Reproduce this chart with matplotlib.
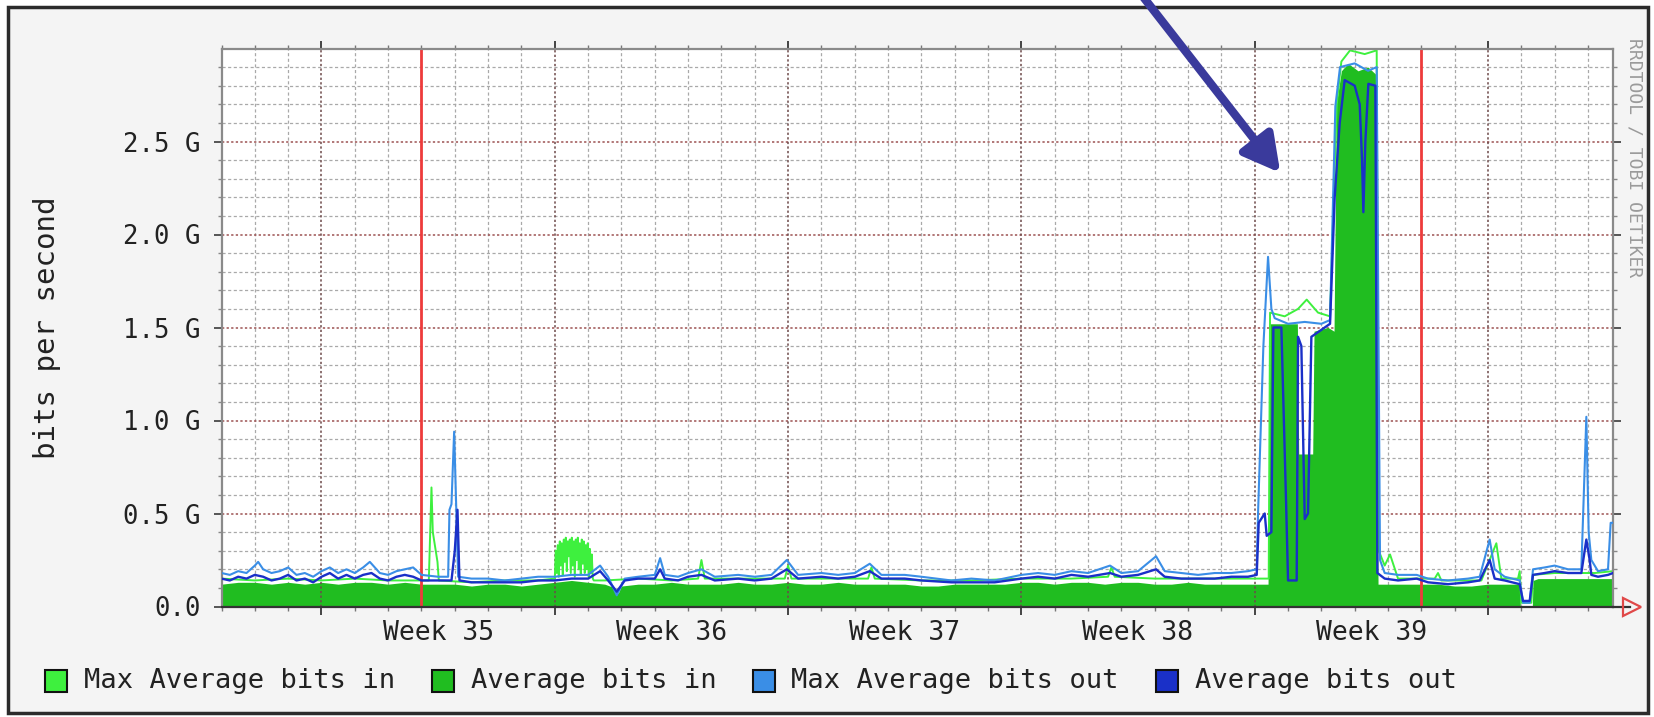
import matplotlib
matplotlib.use('Agg')
import matplotlib.pyplot as plt
import numpy as np
from matplotlib.patches import Rectangle, FancyArrowPatch

G = 1e9

# ---------------- data (x in days from start of graph, values in Gbit/s) ----------------
week_labels = ["Week 35", "Week 36", "Week 37", "Week 38", "Week 39"]
week_centers = [6.5, 13.5, 20.5, 27.5, 34.5]
week_boundaries = [3, 10, 17, 24, 31, 38]
month_start_days = [6, 36]
ytick_vals = [0.0, 0.5, 1.0, 1.5, 2.0, 2.5]
ytick_labels = ["0.0", "0.5 G", "1.0 G", "1.5 G", "2.0 G", "2.5 G"]
legend_labels = ["Max Average bits in", "Average bits in", "Max Average bits out", "Average bits out"]

avg_in_days = [0.0, 0.5, 1.0, 1.5, 2.0, 2.5, 3.0, 3.5, 4.0, 4.5, 5.0, 5.5, 6.0, 6.5, 7.0, 7.5, 8.0, 8.5,
               9.0, 9.5, 10.0, 10.5, 11.0, 11.5, 11.8, 11.9, 12.0, 12.5, 13.0, 13.5, 14.0, 14.5, 15.0,
               15.5, 16.0, 16.5, 17.0, 17.5, 18.0, 18.5, 19.0, 19.5, 20.0, 20.5, 21.0, 21.5, 22.0, 22.5,
               23.0, 23.5, 24.0, 24.5, 25.0, 25.5, 26.0, 26.5, 27.0, 27.5, 28.0, 28.5, 29.0, 29.5, 30.0,
               30.5, 31.0, 31.4, 31.46, 32.28, 32.32, 32.74, 32.78, 33.2, 33.38, 33.45, 33.6, 33.8,
               34.1, 34.4, 34.64, 34.7, 35.0, 35.5, 36.0, 36.5, 37.0, 37.5, 38.0, 38.5, 38.95, 38.97,
               39.33, 39.35, 39.5, 40.0, 40.5, 41.0, 41.5, 41.75]
avg_in_vals = [0.12, 0.13, 0.13, 0.12, 0.13, 0.12, 0.13, 0.12, 0.13, 0.13, 0.12, 0.13, 0.12, 0.12, 0.12,
               0.11, 0.12, 0.12, 0.11, 0.12, 0.13, 0.14, 0.13, 0.12, 0.10, 0.07, 0.11, 0.12, 0.12, 0.13,
               0.12, 0.12, 0.12, 0.13, 0.12, 0.12, 0.13, 0.12, 0.12, 0.13, 0.12, 0.12, 0.12, 0.12, 0.11,
               0.11, 0.12, 0.12, 0.12, 0.12, 0.13, 0.13, 0.12, 0.13, 0.13, 0.12, 0.13, 0.13, 0.12, 0.12,
               0.13, 0.12, 0.12, 0.12, 0.12, 0.12, 1.52, 1.52, 0.82, 0.82, 1.48, 1.50, 1.48, 2.70, 2.88,
               2.92, 2.88, 2.90, 2.86, 0.12, 0.12, 0.12, 0.12, 0.12, 0.11, 0.11, 0.12, 0.12, 0.12, 0.0,
               0.0, 0.14, 0.15, 0.15, 0.15, 0.15, 0.15, 0.15]

max_in_days = [0.0, 1.0, 2.0, 3.0, 4.0, 5.0, 6.0, 6.22, 6.30, 6.34, 6.48, 6.52, 7.5, 8.5, 9.5,
               10.00, 10.03, 10.06, 10.09, 10.12, 10.15, 10.18, 10.21, 10.24, 10.27, 10.30, 10.33,
               10.36, 10.39, 10.42, 10.45, 10.48, 10.51, 10.54, 10.57, 10.60, 10.63, 10.66, 10.69,
               10.72, 10.75, 10.78, 10.81, 10.84, 10.87, 10.90, 10.93, 10.96, 10.99, 11.02, 11.05,
               11.08, 11.11, 11.14, 11.17,
               11.5, 12.5, 13.5, 14.3, 14.4, 14.5, 15.5, 16.9, 17.0, 17.1, 18.5, 19.4, 19.5, 19.6,
               21.0, 22.5, 24.0, 25.5, 26.6, 26.7, 26.8, 28.0, 29.5, 31.0, 31.42, 31.46, 31.9, 32.3,
               32.56, 32.9, 33.26, 33.46, 33.60, 33.86, 34.3, 34.66, 34.72, 34.9, 35.06, 35.3, 36.4,
               36.5, 36.6, 37.8, 38.25, 38.4, 38.9, 38.95, 39.0, 39.3, 39.35, 40.0, 40.9, 41.2, 41.75]
max_in_vals = [0.15, 0.14, 0.15, 0.14, 0.15, 0.14, 0.14, 0.14, 0.64, 0.40, 0.24, 0.14, 0.13, 0.14, 0.14,
               0.15, 0.30, 0.18, 0.33, 0.16, 0.35, 0.22, 0.34, 0.17, 0.36, 0.24, 0.37,
               0.19, 0.35, 0.27, 0.36, 0.18, 0.37, 0.22, 0.35, 0.16, 0.36, 0.25, 0.37,
               0.20, 0.34, 0.17, 0.36, 0.23, 0.35, 0.18, 0.33, 0.20, 0.34, 0.16, 0.31,
               0.18, 0.28, 0.15, 0.14,
               0.14, 0.15, 0.14, 0.15, 0.25, 0.15, 0.15, 0.15, 0.22, 0.15, 0.15, 0.15, 0.21, 0.15,
               0.14, 0.14, 0.15, 0.15, 0.16, 0.21, 0.16, 0.15, 0.15, 0.15, 0.15, 1.58, 1.56, 1.60,
               1.65, 1.58, 1.56, 2.70, 2.93, 2.99, 2.97, 2.99, 0.30, 0.22, 0.28, 0.15, 0.15,
               0.18, 0.14, 0.14, 0.34, 0.15, 0.15, 0.19, 0.02, 0.02, 0.17, 0.18, 0.18, 0.18, 0.19]

max_out_days = [0.0, 0.25, 0.5, 0.75, 1.0, 1.1, 1.25, 1.5, 1.75, 2.0, 2.25, 2.5, 2.75, 3.0, 3.25, 3.5,
                3.75, 4.0, 4.25, 4.45, 4.75, 5.0, 5.25, 5.5, 5.75, 6.0, 6.5, 6.8, 6.84, 6.90, 6.98,
                7.04, 7.10, 7.5, 8.0, 8.5, 9.0, 9.5, 10.0, 10.5, 11.0, 11.36, 11.6, 11.86, 12.1, 12.5,
                13.0, 13.16, 13.3, 13.7, 14.0, 14.4, 14.8, 15.5, 16.0, 16.5, 16.96, 17.3, 18.0, 18.5,
                19.0, 19.45, 19.8, 20.5, 21.0, 21.9, 22.5, 23.2, 24.0, 24.5, 25.0, 25.5, 26.0, 26.66,
                27.0, 27.5, 28.04, 28.3, 28.8, 29.3, 29.8, 30.3, 30.8, 31.06, 31.1, 31.26, 31.4, 31.5,
                31.6, 32.0, 32.5, 33.0, 33.26, 33.42, 33.56, 34.0, 34.4, 34.66, 34.76, 34.9, 35.3,
                35.86, 36.2, 36.8, 37.4, 37.75, 38.05, 38.2, 38.5, 38.95, 39.05, 39.25, 39.35, 39.7,
                40.0, 40.4, 40.8, 40.95, 41.02, 41.1, 41.3, 41.6, 41.68, 41.75]
max_out_vals = [0.18, 0.17, 0.19, 0.18, 0.22, 0.24, 0.20, 0.18, 0.19, 0.21, 0.17, 0.18, 0.16, 0.19, 0.21,
                0.18, 0.20, 0.18, 0.21, 0.24, 0.18, 0.17, 0.19, 0.20, 0.21, 0.17, 0.16, 0.16, 0.52,
                0.55, 0.94, 0.55, 0.16, 0.15, 0.15, 0.14, 0.15, 0.16, 0.16, 0.17, 0.17, 0.22, 0.16,
                0.06, 0.15, 0.16, 0.17, 0.26, 0.17, 0.16, 0.18, 0.20, 0.16, 0.17, 0.16, 0.17, 0.25,
                0.17, 0.18, 0.17, 0.18, 0.23, 0.17, 0.17, 0.16, 0.14, 0.15, 0.14, 0.17, 0.18, 0.17,
                0.19, 0.18, 0.22, 0.18, 0.19, 0.27, 0.19, 0.18, 0.17, 0.18, 0.18, 0.19, 0.20, 0.50,
                1.40, 1.88, 1.60, 1.55, 1.52, 1.53, 1.52, 1.54, 2.69, 2.90, 2.92, 2.88, 2.90, 0.25,
                0.18, 0.17, 0.17, 0.15, 0.14, 0.15, 0.16, 0.36, 0.20, 0.16, 0.14, 0.02, 0.02, 0.20,
                0.21, 0.22, 0.20, 0.20, 1.02, 0.40, 0.25, 0.19, 0.20, 0.45, 0.45]

avg_out_days = [0.0, 0.25, 0.5, 0.75, 1.0, 1.25, 1.5, 1.75, 2.0, 2.25, 2.5, 2.75, 3.0, 3.25, 3.5, 3.75,
                4.0, 4.25, 4.5, 4.75, 5.0, 5.25, 5.5, 5.75, 6.0, 6.5, 6.9, 7.0, 7.08, 7.14, 7.5, 8.0,
                8.5, 9.0, 9.5, 10.0, 10.5, 11.0, 11.36, 11.6, 11.86, 12.1, 12.5, 13.0, 13.16, 13.3,
                13.7, 14.0, 14.4, 14.8, 15.5, 16.0, 16.5, 16.96, 17.3, 18.0, 18.5, 19.0, 19.45, 19.8,
                20.5, 21.0, 21.9, 22.5, 23.2, 24.0, 24.5, 25.0, 25.5, 26.0, 26.66, 27.0, 27.5, 28.04,
                28.3, 28.8, 29.3, 29.8, 30.3, 30.8, 31.06, 31.12, 31.3, 31.36, 31.5, 31.56, 31.8,
                31.95, 32.0, 32.26, 32.3, 32.4, 32.5, 32.6, 32.7, 33.26, 33.4, 33.55, 33.7, 34.0,
                34.15, 34.22, 34.26, 34.32, 34.41, 34.62, 34.68, 34.9, 35.3, 35.86, 36.2, 36.8, 37.4,
                37.75, 38.05, 38.2, 38.5, 38.95, 39.05, 39.25, 39.35, 39.7, 40.0, 40.4, 40.8, 40.95,
                41.05, 41.1, 41.3, 41.6, 41.75]
avg_out_vals = [0.15, 0.14, 0.16, 0.15, 0.17, 0.16, 0.14, 0.15, 0.17, 0.14, 0.15, 0.13, 0.16, 0.18, 0.15,
                0.17, 0.15, 0.17, 0.18, 0.15, 0.14, 0.16, 0.17, 0.16, 0.14, 0.14, 0.14, 0.30, 0.52,
                0.14, 0.13, 0.13, 0.13, 0.13, 0.14, 0.14, 0.15, 0.15, 0.19, 0.14, 0.08, 0.14, 0.15,
                0.15, 0.20, 0.15, 0.14, 0.16, 0.17, 0.14, 0.15, 0.14, 0.15, 0.20, 0.15, 0.16, 0.15,
                0.16, 0.19, 0.15, 0.15, 0.14, 0.13, 0.13, 0.13, 0.15, 0.16, 0.15, 0.17, 0.16, 0.18,
                0.16, 0.17, 0.20, 0.16, 0.15, 0.15, 0.15, 0.16, 0.16, 0.17, 0.45, 0.50, 0.38, 0.40,
                1.50, 1.50, 0.50, 0.14, 0.14, 1.45, 1.40, 0.47, 0.50, 1.45, 1.52, 2.20, 2.60, 2.83,
                2.80, 2.70, 2.40, 2.12, 2.50, 2.81, 2.80, 0.18, 0.15, 0.14, 0.15, 0.13, 0.12, 0.13,
                0.14, 0.25, 0.15, 0.14, 0.12, 0.03, 0.03, 0.17, 0.18, 0.19, 0.18, 0.18, 0.36, 0.25,
                0.17, 0.16, 0.17, 0.18]

# ---------------- styling ----------------
MONO = ['DejaVu Sans Mono']
W, H = 1654, 717
C_MAX_IN = '#3ef03e'
C_AVG_IN = '#20bd20'
C_MAX_OUT = '#3a8ee6'
C_AVG_OUT = '#1a30c8'
TXT = '#222222'

fig = plt.figure(figsize=(W / 100, H / 100), dpi=100)
fig.patch.set_facecolor('white')
fig.add_artist(Rectangle((8 / W, 1 - 713 / H), 1640 / W, 706 / H, transform=fig.transFigure,
                         facecolor='#f4f4f4', edgecolor='#2b2b2b', linewidth=2.5, zorder=-10))

left, right, top, bottom = 221.5, 1613.0, 48.5, 606.5
ax = fig.add_axes([left / W, 1 - bottom / H, (right - left) / W, (bottom - top) / H])
ax.set_facecolor('white')
ax.set_xlim(0, 41.75)
ax.set_ylim(0, 3.0 * G)

# grid (under data)
for k in range(1, 30):
    v = k * 0.1 * G
    if k % 5 == 0:
        ax.axhline(v, color='#9c5252', lw=1.1, ls=(0, (1.5, 1.5)), zorder=0.6)
    else:
        ax.axhline(v, color='#a9a9a9', lw=0.9, ls=(0, (2.5, 2.0)), zorder=0.5)
for d in range(1, 42):
    if d not in week_boundaries:
        ax.axvline(d, color='#a9a9a9', lw=0.9, ls=(0, (2.5, 2.0)), zorder=0.5)
for d in week_boundaries:
    ax.axvline(d, color='#6e4a4a', lw=1.1, ls=(0, (1.5, 1.5)), zorder=1.5)

# data
ax.fill_between(avg_in_days, np.array(avg_in_vals) * G, color=C_AVG_IN, lw=0, zorder=1)
ax.plot(max_in_days, np.array(max_in_vals) * G, color=C_MAX_IN, lw=1.4, zorder=2)
for d in month_start_days:
    ax.axvline(d, color='#ee3b3b', lw=2.0, zorder=2.5)
ax.plot(max_out_days, np.array(max_out_vals) * G, color=C_MAX_OUT, lw=1.5, zorder=3)
ax.plot(avg_out_days, np.array(avg_out_vals) * G, color=C_AVG_OUT, lw=1.7, zorder=4)

# ticks
ax.set_xticks(week_boundaries)
ax.set_xticks(range(0, 42), minor=True)
ax.tick_params(axis='x', which='major', length=6, width=1.4, color='#444444', top=True, bottom=True,
               labelbottom=False, direction='out')
ax.tick_params(axis='x', which='minor', length=3, width=1.0, color='#777777', top=True, bottom=True,
               direction='out')
ax.set_yticks(np.array(ytick_vals) * G)
ax.set_yticklabels(ytick_labels, fontfamily=MONO, fontsize=18.5, color=TXT)
ax.set_yticks(np.arange(0, 30) * 0.1 * G, minor=True)
ax.tick_params(axis='y', which='major', length=6, width=1.4, color='#555555', left=True, right=True,
               pad=9, direction='out')
ax.tick_params(axis='y', which='minor', length=3, width=1.0, color='#888888', left=True, right=True,
               direction='out')

for s in ['left', 'right', 'top']:
    ax.spines[s].set_color('#8a8a8a')
    ax.spines[s].set_linewidth(1.6)
ax.spines['bottom'].set_color('#333333')
ax.spines['bottom'].set_linewidth(1.6)

# x axis arrow
ax.plot([1.0, 1.012], [0, 0], transform=ax.transAxes, color='#333333', lw=1.6, clip_on=False, zorder=5)
ax.plot([1.0137], [0], transform=ax.transAxes, marker='>', markersize=13, markerfacecolor='none',
        markeredgecolor='#e04848', markeredgewidth=1.6, clip_on=False, zorder=6)

# week labels
for c, lab in zip(week_centers, week_labels):
    ax.text(c, -26.5 / (bottom - top), lab, transform=ax.get_xaxis_transform(), ha='center',
            va='center', fontsize=19, family=MONO, color=TXT)

# y label
fig.text(47.5 / W, 1 - (top + bottom) / 2 / H, "bits per second", rotation=90, ha='center',
         va='center', fontsize=21, family=MONO, color=TXT)

# watermark
fig.text(1634 / W, 1 - 38 / H, "RRDTOOL / TOBI OETIKER", rotation=270, ha='center', va='top',
         fontsize=13, family=MONO, color='#9a9a9a')

# legend
sq_x = [45, 432, 753, 1156]
tx_x = [84, 471, 791, 1195]
leg_colors = [C_MAX_IN, C_AVG_IN, C_MAX_OUT, C_AVG_OUT]
ly = 681
for sx, tx, col, lab in zip(sq_x, tx_x, leg_colors, legend_labels):
    fig.add_artist(Rectangle((sx / W, 1 - (ly + 11) / H), 22 / W, 22 / H, transform=fig.transFigure,
                             facecolor=col, edgecolor='#111111', linewidth=1.5, zorder=5))
    fig.text(tx / W, 1 - ly / H, lab, ha='left', va='center', fontsize=19.5, family=MONO, color=TXT)

# annotation arrow
arrow = FancyArrowPatch((1140 / W, 1.01), (1282 / W, 1 - 175 / H), transform=fig.transFigure,
                        arrowstyle='-|>,head_length=1.1,head_width=0.6', mutation_scale=20,
                        color='#3a3a9c', linewidth=6.0, zorder=10)
fig.add_artist(arrow)

fig.savefig('out.png', dpi=100)
